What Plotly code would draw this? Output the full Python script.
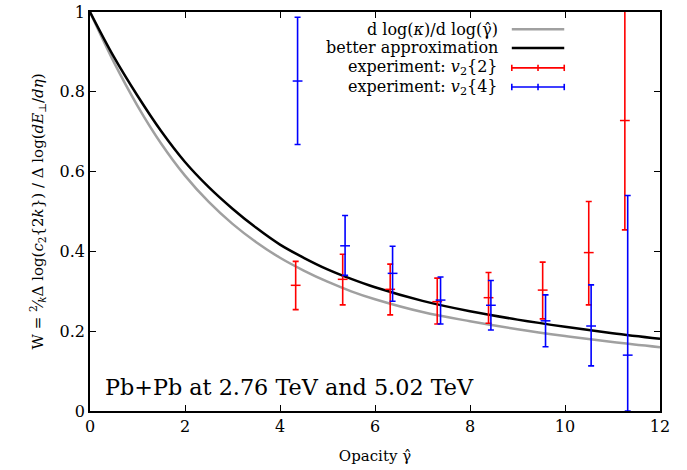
import plotly.graph_objects as go

# ---- data ----
curve_x = [0, 0.5, 1, 1.5, 2, 2.5, 3, 3.5, 4, 4.5, 5, 5.5, 6, 7, 8, 9, 10, 11, 12]
approx_dlog = [1.0, 0.875, 0.765, 0.670, 0.590, 0.524, 0.469, 0.423, 0.384, 0.352, 0.324, 0.300, 0.280, 0.248, 0.225, 0.205, 0.188, 0.173, 0.160]
better_approx = [1.0, 0.888, 0.790, 0.701, 0.624, 0.561, 0.507, 0.459, 0.417, 0.384, 0.355, 0.331, 0.310, 0.276, 0.250, 0.229, 0.211, 0.195, 0.181]

v22_x = [4.33, 5.32, 6.32, 7.31, 8.39, 9.53, 10.50, 11.26]
v22_w = [0.315, 0.330, 0.305, 0.274, 0.284, 0.303, 0.397, 0.728]
v22_hi = [0.375, 0.393, 0.368, 0.333, 0.347, 0.373, 0.525, 1.04]
v22_lo = [0.254, 0.266, 0.241, 0.218, 0.220, 0.231, 0.266, 0.454]

v24_x = [4.37, 5.37, 6.37, 7.38, 8.44, 9.59, 10.55, 11.32]
v24_w = [0.827, 0.414, 0.345, 0.278, 0.265, 0.226, 0.213, 0.140]
v24_hi = [0.987, 0.490, 0.413, 0.336, 0.327, 0.291, 0.316, 0.540]
v24_lo = [0.668, 0.340, 0.275, 0.218, 0.203, 0.161, 0.113, 0.0]

x_ticks = [0, 2, 4, 6, 8, 10, 12]
y_ticks = [0, 0.2, 0.4, 0.6, 0.8, 1]
y_tick_labels = ["0", "0.2", "0.4", "0.6", "0.8", "1"]

FONT = "'DejaVu Serif', 'Liberation Serif', serif"
RED = "#ff0000"
BLUE = "#0000ff"
GRAY = "#a0a0a0"

fig = go.Figure()

fig.add_trace(go.Scatter(x=curve_x, y=approx_dlog, mode="lines",
                         line=dict(color=GRAY, width=2.5, shape="spline", smoothing=1.0),
                         name="d log(κ)/d log(γ̂)"))
fig.add_trace(go.Scatter(x=curve_x, y=better_approx, mode="lines",
                         line=dict(color="black", width=2.5, shape="spline", smoothing=1.0),
                         name="better approximation"))


def err_trace(x, w, hi, lo, color, name):
    up = [h - c for h, c in zip(hi, w)]
    dn = [c - l for c, l in zip(w, lo)]
    return go.Scatter(x=x, y=w, mode="markers", name=name, cliponaxis=False,
                      marker=dict(symbol="line-ew-open", size=7, color=color,
                                  line=dict(color=color, width=1.5)),
                      error_y=dict(type="data", symmetric=False, array=up, arrayminus=dn,
                                   color=color, thickness=1.6, width=3))


fig.add_trace(err_trace(v22_x, v22_w, v22_hi, v22_lo, RED, "experiment: v2{2}"))
fig.add_trace(err_trace(v24_x, v24_w, v24_hi, v24_lo, BLUE, "experiment: v2{4}"))

# ---- manual legend (text right aligned, samples on the right) ----
leg_text = ["d log(<i>κ</i>)/d log(γ̂)", "better approximation",
            "experiment: <i>v</i><sub>2</sub>{2}", "experiment: <i>v</i><sub>2</sub>{4}"]
leg_color = [GRAY, "black", RED, BLUE]
leg_y = [0.957, 0.910, 0.860, 0.812]
x0, x1 = 0.740, 0.832
shapes = []
annotations = []
for i, (t, c, yy) in enumerate(zip(leg_text, leg_color, leg_y)):
    annotations.append(dict(x=0.719, y=yy, xref="paper", yref="paper", text=t, showarrow=False,
                            xanchor="right", yanchor="middle",
                            font=dict(family=FONT, size=16, color="black")))
    shapes.append(dict(type="line", xref="paper", yref="paper", x0=x0, x1=x1, y0=yy, y1=yy,
                       line=dict(color=c, width=2.5 if i < 2 else 1.6)))
    if i >= 2:
        h = 0.008
        for xc in (x0, (x0 + x1) / 2, x1):
            shapes.append(dict(type="line", xref="paper", yref="paper", x0=xc, x1=xc,
                               y0=yy - h, y1=yy + h, line=dict(color=c, width=1.6)))

annotations.append(dict(x=0.022, y=0.06, xref="paper", yref="paper",
                        text="Pb+Pb at 2.76 TeV and 5.02 TeV",
                        showarrow=False, xanchor="left", yanchor="middle",
                        font=dict(family=FONT, size=22.3, color="black")))

fig.update_layout(
    width=687, height=470,
    margin=dict(l=90, r=27, t=12, b=59, autoexpand=False),
    paper_bgcolor="white", plot_bgcolor="white",
    showlegend=False,
    font=dict(family=FONT, size=15, color="black"),
    shapes=shapes, annotations=annotations,
)
fig.update_xaxes(range=[0, 12], tickvals=x_ticks, ticktext=[str(v) for v in x_ticks],
                 ticks="inside", ticklen=6, tickwidth=1, tickcolor="black",
                 showline=True, linecolor="black", linewidth=1.5, mirror="ticks",
                 showgrid=False, zeroline=False, automargin=False,
                 title=dict(text="Opacity γ̂", font=dict(family=FONT, size=15), standoff=16),
                 tickfont=dict(family=FONT, size=16))
fig.update_yaxes(range=[0, 1], tickvals=y_ticks, ticktext=y_tick_labels,
                 ticks="inside", ticklen=6, tickwidth=1, tickcolor="black",
                 showline=True, linecolor="black", linewidth=1.5, mirror="ticks",
                 showgrid=False, zeroline=False, automargin=False,
                 title=dict(text="W = <sup>2</sup>⁄<sub><i>k</i></sub>Δ log(<i>c</i><sub>2</sub>{2<i>k</i>}) / Δ log(<i>dE</i><sub>⊥</sub>/<i>dη</i>)",
                            font=dict(family=FONT, size=15), standoff=12),
                 tickfont=dict(family=FONT, size=16))

fig.write_html("out.html", config={"displayModeBar": False},
               post_script="document.body.style.margin='0';document.body.style.overflow='hidden';")
